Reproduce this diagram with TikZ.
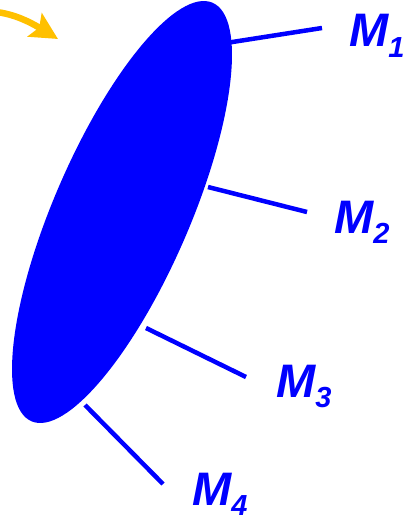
\documentclass[tikz,border=0pt]{standalone}
\usepackage{fontspec}
\setmainfont{Liberation Sans}
\usetikzlibrary{arrows.meta}
\definecolor{mblue}{RGB}{0,0,255}
\definecolor{gold}{RGB}{255,192,0}
\tikzset{
  leg/.style={draw=mblue, line width=4.5pt},
  lab/.style={anchor=base west, inner sep=0pt, text=mblue, font=\fontsize{47}{50}\selectfont\bfseries\itshape},
}
\newcommand{\msub}[1]{\raisebox{-10pt}{\fontsize{29}{30}\selectfont #1}}
\begin{document}
\begin{tikzpicture}[x=1pt,y=-1pt]
\useasboundingbox (0,0) rectangle (402,519);
% pointer arrow
\coordinate (as) at (-4,12);
\coordinate (at) at (58,39);
\draw[draw=gold, line width=6.5pt, -{Stealth[length=27pt,width=27pt,inset=5pt]}] (as) .. controls (14,14) and (30,22) .. (at);
% ellipse
\fill[mblue] (122,212) ellipse[x radius=228, y radius=68, rotate=66.6];
% leg endpoints on the ellipse
\coordinate (e1) at (226,43);
\coordinate (e2) at (208,187);
\coordinate (e3) at (146,328);
\coordinate (e4) at (85,405);
\coordinate (t1) at (322,28);
\coordinate (t2) at (307,212);
\coordinate (t3) at (246,377);
\coordinate (t4) at (163,484);
\draw[leg] (e1) -- (t1);
\draw[leg] (e2) -- (t2);
\draw[leg] (e3) -- (t3);
\draw[leg] (e4) -- (t4);
% labels
\node[lab] (m1) at (349,47) {M\msub{1}};
\node[lab] (m2) at (334,233) {M\msub{2}};
\node[lab] (m3) at (276,397) {M\msub{3}};
\node[lab] (m4) at (192,505) {M\msub{4}};
\end{tikzpicture}
\end{document}
